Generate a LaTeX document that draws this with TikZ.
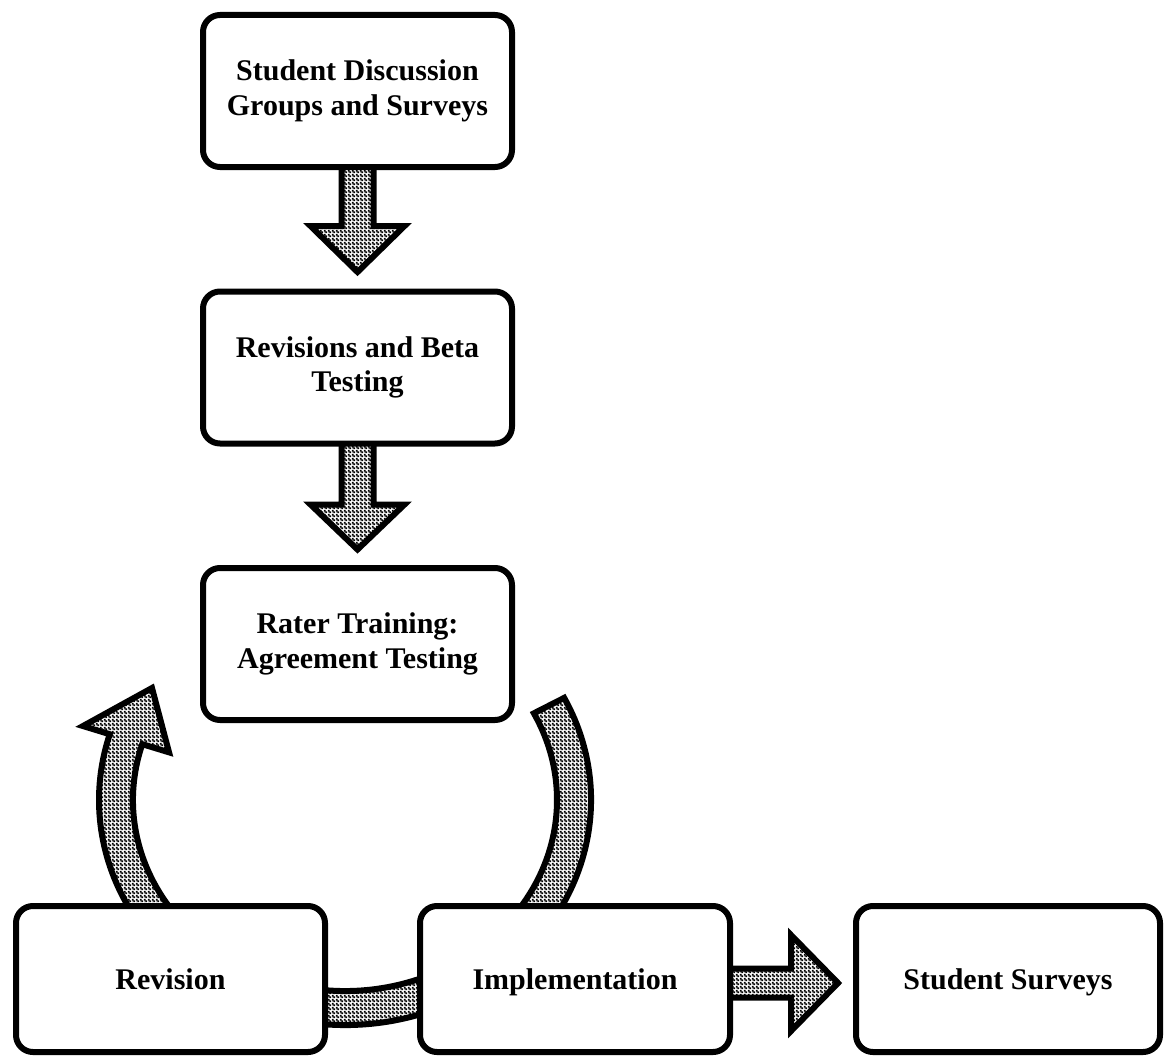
\documentclass[tikz,border=0pt]{standalone}
\usepackage{fontspec}
\setmainfont{Liberation Serif}
\usetikzlibrary{patterns,calc,backgrounds}
\pgfdeclarepatternformonly{finecheck}{\pgfpointorigin}{\pgfqpoint{4pt}{4pt}}{\pgfqpoint{4pt}{4pt}}{%
  \pgfseteorule
  \pgfpathrectangle{\pgfpointorigin}{\pgfqpoint{4pt}{4pt}}%
  \pgfpathrectangle{\pgfqpoint{0.15pt}{0.15pt}}{\pgfqpoint{1.7pt}{1.7pt}}%
  \pgfpathrectangle{\pgfqpoint{2.15pt}{2.15pt}}{\pgfqpoint{1.7pt}{1.7pt}}%
  \pgfusepath{fill}}
\begin{document}
\begin{tikzpicture}[x=1pt,y=-1pt,
  box/.style={draw, line width=6pt, rounded corners=17pt, fill=white, align=center,
    font=\bfseries\fontsize{30}{34.5}\selectfont, inner sep=0pt, outer sep=0pt},
  topbox/.style={box, minimum width=309pt, minimum height=152pt},
  botbox/.style={box, minimum height=146pt, text height=21pt, text depth=0pt},
  blockarrow/.style={draw, line width=6pt, line join=miter, miter limit=10,
    preaction={fill=white}, pattern=finecheck}]
\useasboundingbox (0,0) rectangle (1164,1057);

% boxes
\node[topbox] (sd) at (357.5,91)    {Student Discussion\\Groups and Surveys};
\node[topbox] (rb) at (357.5,367.5) {Revisions and Beta\\Testing};
\node[topbox] (rt) at (357.5,644)   {Rater Training:\\Agreement Testing};
\node[botbox, minimum width=309pt] (rv) at (170.5,979) {Revision};
\node[botbox, minimum width=310pt] (im) at (575,979)   {Implementation};
\node[botbox, minimum width=304pt] (ss) at (1008,979)  {Student Surveys};

\begin{scope}[on background layer]
  % arrow 1
  \coordinate (h1) at ([yshift=-59pt]sd.south);
  \coordinate (t1) at ([yshift=19.5pt]rb.north);
  \draw[blockarrow] ([xshift=-16pt,yshift=16pt]sd.south) -- ([xshift=-16pt]h1)
    -- ([xshift=-47pt]h1) -- (t1) -- ([xshift=47pt]h1) -- ([xshift=16pt]h1)
    -- ([xshift=16pt,yshift=16pt]sd.south) -- cycle;
  % arrow 2
  \coordinate (h2) at ([yshift=-61pt]rb.south);
  \coordinate (t2) at ([yshift=18.5pt]rt.north);
  \draw[blockarrow] ([xshift=-16pt,yshift=16pt]rb.south) -- ([xshift=-16pt]h2)
    -- ([xshift=-47pt]h2) -- (t2) -- ([xshift=47pt]h2) -- ([xshift=16pt]h2)
    -- ([xshift=16pt,yshift=16pt]rb.south) -- cycle;
  % arrow Implementation -> Student Surveys
  \coordinate (s3) at ([xshift=-16pt,yshift=-4pt]im.east);
  \coordinate (h3) at ([xshift=61pt,yshift=-4pt]im.east);
  \coordinate (t3) at ([xshift=-18pt,yshift=-4pt]ss.west);
  \draw[blockarrow] ([yshift=14.5pt]s3) -- ([yshift=14.5pt]h3) -- ([yshift=48pt]h3)
    -- (t3) -- ([yshift=-48pt]h3) -- ([yshift=-14.5pt]h3) -- ([yshift=-14.5pt]s3) -- cycle;
  % circular arrow behind Revision / Implementation
  \coordinate (C) at (345,800);
  \coordinate (ctip) at (152,688);
  \draw[blockarrow] ($(C)+(-27:246 and 225)$)
      arc[start angle=-27, end angle=197, x radius=246, y radius=225]
    -- ($(C)+(197:274 and 253)$) -- (ctip) -- ($(C)+(197:184 and 163)$)
    -- ($(C)+(197:212 and 191)$)
      arc[start angle=197, end angle=-27, x radius=212, y radius=191]
    -- cycle;
\end{scope}
\end{tikzpicture}
\end{document}
